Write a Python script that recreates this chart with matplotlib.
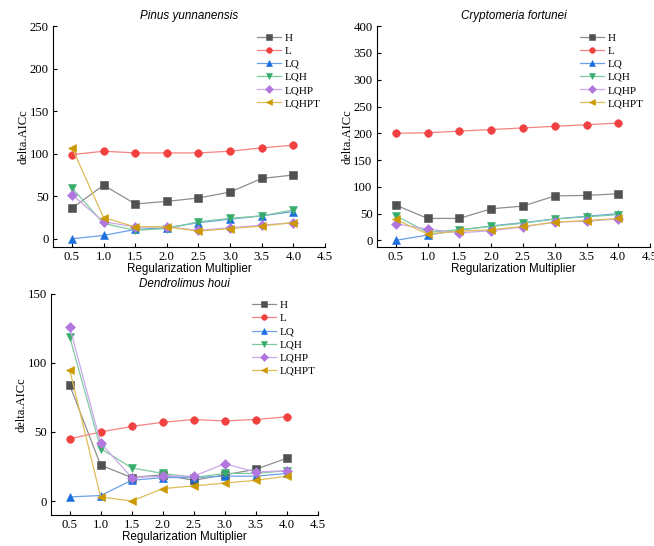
import numpy as np
import matplotlib.pyplot as plt
from matplotlib.colors import to_rgb

x = [0.5, 1.0, 1.5, 2.0, 2.5, 3.0, 3.5, 4.0]
names = ["H", "L", "LQ", "LQH", "LQHP", "LQHPT"]
colors = ["#515151", "#F14040", "#1A6FDF", "#37AD6B", "#B177DE", "#CC9900"]
markers = ["s", "o", "^", "v", "D", "<"]

# Pinus yunnanensis
pinus = [
    [36, 63, 41, 44, 48, 55, 71, 75],
    [99, 103, 101, 101, 101, 103, 107, 110],
    [0, 4, 11, 13, 19, 23, 27, 32],
    [60, 18, 10, 12, 20, 24, 27, 34],
    [52, 20, 14, 14, 10, 13, 16, 19],
    [107, 25, 14, 14, 9, 12, 15, 19],
]
# Cryptomeria fortunei
crypto = [
    [66, 41, 41, 59, 64, 83, 84, 87],
    [200, 201, 204, 207, 210, 213, 216, 219],
    [0, 10, 19, 27, 33, 40, 45, 50],
    [46, 15, 20, 26, 32, 40, 44, 48],
    [31, 21, 14, 18, 25, 34, 36, 40],
    [39, 12, 17, 20, 26, 34, 37, 41],
]
# Dendrolimus houi
dendro = [
    [84, 26, 17, 19, 15, 19, 23, 31],
    [45, 50, 54, 57, 59, 58, 59, 61],
    [3, 4, 15, 17, 17, 18, 18, 20],
    [119, 38, 24, 20, 17, 20, 20, 22],
    [126, 42, 17, 18, 18, 27, 21, 22],
    [95, 3, 0, 9, 11, 13, 15, 18],
]

SERIF = "Liberation Serif"
SANS = "Liberation Sans"


def lighten(c, amt=0.35):
    r, g, b = to_rgb(c)
    return (r + (1 - r) * amt, g + (1 - g) * amt, b + (1 - b) * amt)


fig = plt.figure(figsize=(6.54, 5.46), dpi=100)

# title, data, axes rect, ylim, yticks, legend anchor x
panels = [
    ("Pinus yunnanensis", pinus, [0.081, 0.548, 0.416, 0.404], (-9.4, 250), np.arange(0, 251, 50), 1.008),
    ("Cryptomeria fortunei", crypto, [0.576, 0.548, 0.418, 0.404], (-12, 400), np.arange(0, 401, 50), 1.0),
    ("Dendrolimus houi", dendro, [0.078, 0.057, 0.408, 0.405], (-10, 150), np.arange(0, 151, 50), 1.016),
]

for title, data, pos, ylim, yticks, lx in panels:
    ax = fig.add_axes(pos)
    for vals, name, c, m in zip(data, names, colors, markers):
        ax.plot(x, vals, color=lighten(c), lw=0.9, marker=m, markersize=5.5,
                markerfacecolor=c, markeredgecolor=c, markeredgewidth=0.4, label=name)
    ax.set_xlim(0.2, 4.5)
    ax.set_ylim(*ylim)
    ax.set_xticks(np.arange(0.5, 4.51, 0.5))
    ax.set_xticklabels(["%.1f" % v for v in np.arange(0.5, 4.51, 0.5)])
    ax.set_yticks(yticks)
    ax.spines["top"].set_visible(False)
    ax.spines["right"].set_visible(False)
    ax.spines["left"].set_bounds(ylim[0], yticks[-1])
    ax.tick_params(direction="in", length=3, width=0.8, labelsize=9.2, pad=3)
    for lab in ax.get_xticklabels() + ax.get_yticklabels():
        lab.set_fontfamily(SERIF)
    ax.set_xlabel("Regularization Multiplier", fontfamily=SANS, fontsize=8.4, labelpad=0)
    ax.set_ylabel("delta.AICc", fontfamily=SERIF, fontsize=9, labelpad=0)
    ax.set_title(title, fontfamily=SANS, fontstyle="italic", fontsize=8.4, pad=5)
    ax.legend(loc="upper right", frameon=False, prop={"family": SERIF, "size": 8},
              handlelength=2.2, labelspacing=0.3, handletextpad=0.3,
              borderaxespad=0.2, markerscale=0.75, bbox_to_anchor=(lx, 1.0))

fig.savefig("out.png", dpi=100)
